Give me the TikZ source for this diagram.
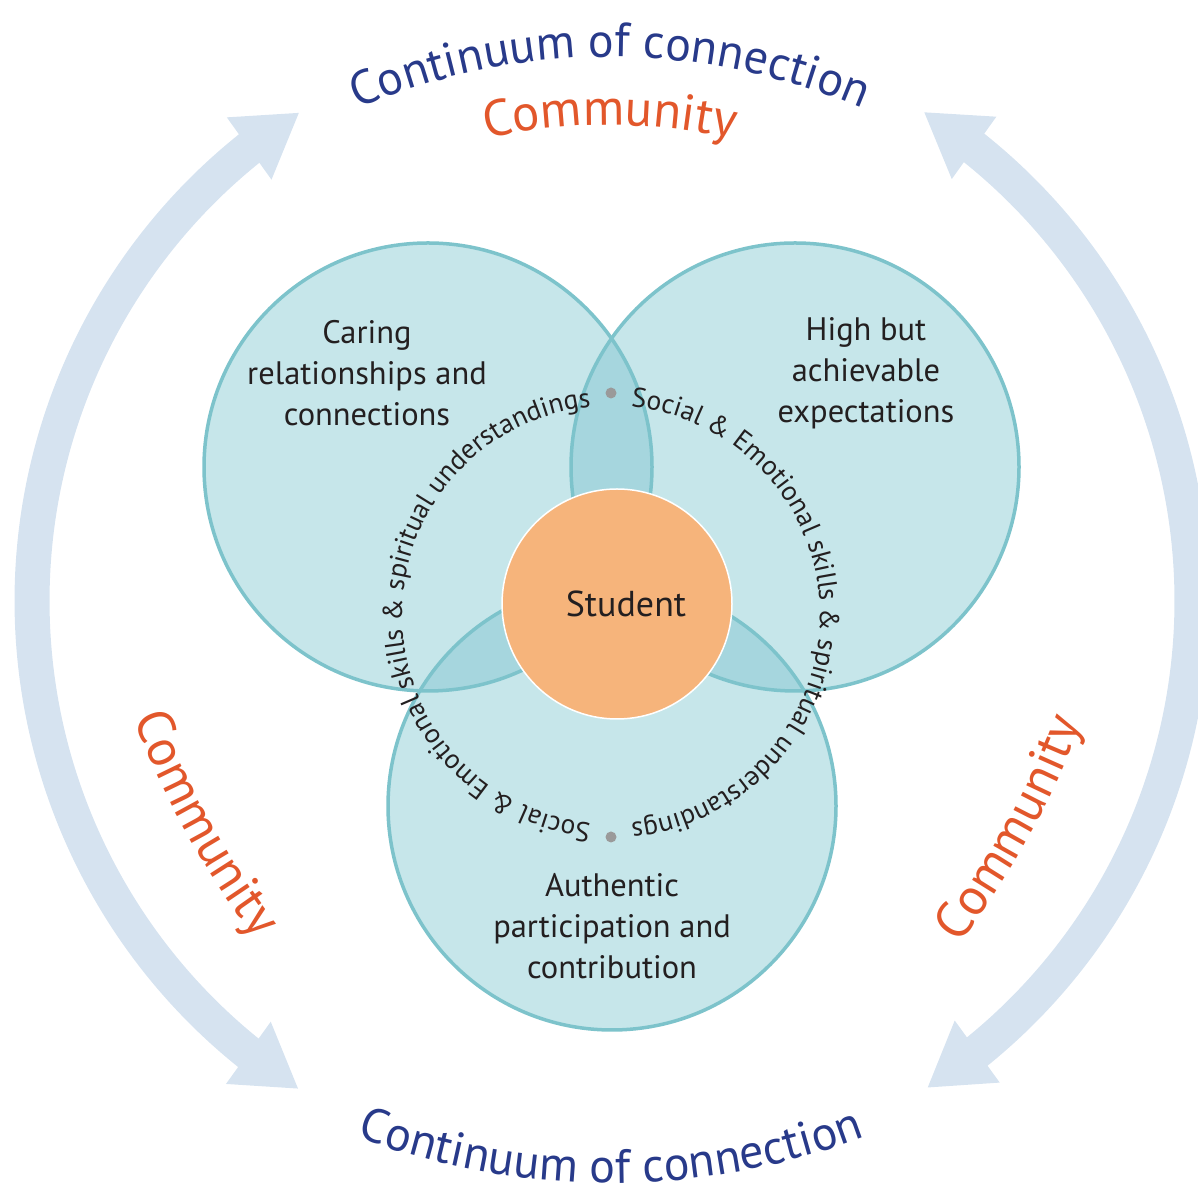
\documentclass[tikz,border=0pt]{standalone}
\usepackage{fontspec}
\setmainfont{PT Sans}
\usetikzlibrary{arrows.meta,decorations.text,positioning,calc,bending}
\definecolor{vennfill}{HTML}{C6E6EA}
\definecolor{vennlap}{HTML}{A6D6DE}
\definecolor{vennline}{HTML}{7DC3CB}
\definecolor{studentfill}{HTML}{F6B47B}
\definecolor{arrowfill}{HTML}{D6E3F0}
\definecolor{titleblue}{HTML}{283A8A}
\definecolor{commorange}{HTML}{E2572B}
\definecolor{dotgrey}{HTML}{9A9A9A}
\definecolor{inktext}{HTML}{231F20}
\tikzset{every picture/.style={line width=0.75pt}}
\tikzset{
  loop arrow/.style={draw=arrowfill, line width=35pt,
    {Triangle[width=72pt,length=62pt]}-{Triangle[width=72pt,length=62pt]}},
  venn edge/.style={draw=vennline, line width=3.5pt},
  box text/.style={align=center, text=inktext, font=\fontsize{32.5}{41}\selectfont},
  curved/.style={decorate, decoration={text along path, text align=center, text={#1}}}
}

\begin{document}
\begin{tikzpicture}[x=1pt, y=1pt]
    \useasboundingbox (0,0) rectangle (1198,1198);
    \coordinate (hub) at (612,597);
    \coordinate (care) at (428,731);
    \coordinate (expect) at (795,731);
    \coordinate (partic) at (612,392);
    \coordinate (ring) at (611,583);
    \coordinate (topc) at (610,501);
    \coordinate (botc) at (611,735);
    \coordinate (leftc) at (974,801);
    \coordinate (rightc) at (241,796);
    % outer arrows
    \draw[loop arrow] ($(hub)+(122.6:580)$) arc[start angle=122.6, end angle=237.3, radius=580];
    \draw[loop arrow] ($(hub)+(57.5:580)$) arc[start angle=57.5, end angle=-57.1, radius=580];
    % curved titles
    \path[curved={|\fontsize{48}{58}\selectfont\color{titleblue}|Continuum of connection}]
        ($(topc)+(145:640)$) arc[start angle=145, end angle=35, radius=640];
    \path[curved={|\fontsize{51}{60}\selectfont\color{commorange}|Community}]
        ($(topc)+(125:572)$) arc[start angle=125, end angle=55, radius=572];
    \path[curved={|\fontsize{48}{58}\selectfont\color{titleblue}|Continuum of connection}]
        ($(botc)+(240:720)$) arc[start angle=240, end angle=300, radius=720];
    \path[curved={|\fontsize{52}{60}\selectfont\color{commorange}|Community}]
        ($(leftc)+(193:900)$) arc[start angle=193, end angle=225, radius=900];
    \path[curved={|\fontsize{52}{60}\selectfont\color{commorange}|Community}]
        ($(rightc)+(315:900)$) arc[start angle=315, end angle=347, radius=900];
    % venn circles
    \fill[vennfill] (care) circle[radius=224];
    \fill[vennfill] (expect) circle[radius=224];
    \fill[vennfill] (partic) circle[radius=224];
    \begin{scope}
        \clip (care) circle[radius=224];
        \fill[vennlap] (expect) circle[radius=224];
        \fill[vennlap] (partic) circle[radius=224];
    \end{scope}
    \begin{scope}
        \clip (expect) circle[radius=224];
        \fill[vennlap] (partic) circle[radius=224];
    \end{scope}
    \draw[venn edge] (care) circle[radius=224];
    \draw[venn edge] (expect) circle[radius=224];
    \draw[venn edge] (partic) circle[radius=224];
    % student in the middle
    \node[circle, fill=studentfill, draw=white, line width=1.5pt, minimum size=230pt,
          inner sep=0pt] (student) at (617,594) {};
    \node[text=inktext, font=\fontsize{36}{40}\selectfont] (studentname) at ($(student)+(9,0)$) {Student};
    % ring text and its two dots
    \path[curved={|\fontsize{27.5}{31}\selectfont\color{inktext}|Social {\&} Emotional skills {\&} spiritual understandings}]
        ($(ring)+(100:209)$) arc[start angle=100, end angle=-100, radius=209];
    \path[curved={|\fontsize{27.5}{31}\selectfont\color{inktext}|Social {\&} Emotional skills {\&} spiritual understandings}]
        ($(ring)+(-80:209)$) arc[start angle=-80, end angle=-280, radius=209];
    \coordinate (dottop) at ($(ring)+(90:222)$);
    \coordinate (dotbot) at ($(ring)+(-90:222)$);
    \fill[dotgrey] (dottop) circle[radius=5.5];
    \fill[dotgrey] (dotbot) circle[radius=5.5];
    % circle labels
    \node[box text] (caring) at (367,825) {Caring\\relationships and\\connections};
    \node[box text] (high) at (866,825) {High but\\achievable\\expectations};
    \node[box text] (authentic) at (612,272) {Authentic\\participation and\\contribution};
\end{tikzpicture}
\end{document}
